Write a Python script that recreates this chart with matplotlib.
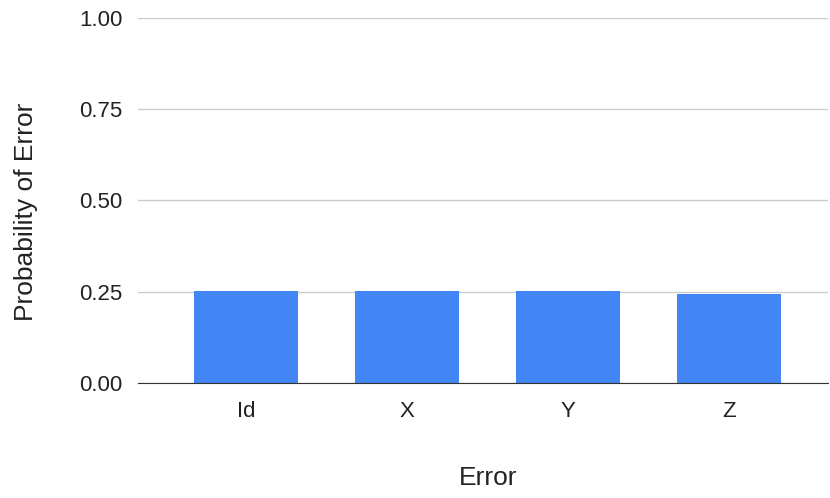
import matplotlib
matplotlib.use("Agg")
import matplotlib.pyplot as plt

# data
categories = ["Id", "X", "Y", "Z"]
probabilities = [0.251, 0.251, 0.251, 0.245]
yticks = [0.0, 0.25, 0.5, 0.75, 1.0]

plt.rcParams['font.family'] = ['Liberation Sans', 'DejaVu Sans']

fig = plt.figure(figsize=(8.3, 4.98), dpi=100)
ax = fig.add_axes([138 / 830, 115 / 498, 690 / 830, 365 / 498])

x = range(len(categories))
ax.bar(x, probabilities, width=0.65, color='#4285F4', zorder=3)

# ----- axes decoration:
ax.set_xlim(-0.671, 3.615)
ax.set_ylim(0, 1.0)
ax.set_yticks(yticks)
ax.set_yticklabels([f"{v:.2f}" for v in yticks])
ax.set_xticks(list(x))
ax.set_xticklabels(categories)
ax.tick_params(axis='both', length=0, labelsize=16, colors='#222222')
ax.tick_params(axis='y', pad=11)
ax.tick_params(axis='x', pad=13)
ax.grid(axis='y', color='#cccccc', linewidth=1, zorder=0)
for side in ['top', 'right', 'left']:
    ax.spines[side].set_visible(False)
ax.spines['bottom'].set_color('#333333')
ax.spines['bottom'].set_zorder(4)

ax.set_xlabel('Error', fontsize=19, color='#222222')
ax.xaxis.set_label_coords(0.507, -0.260)
ax.xaxis.label.set_verticalalignment('center')
ax.set_ylabel('Probability of Error', fontsize=19, color='#222222')
ax.yaxis.set_label_coords(-0.162, 0.468)
ax.yaxis.label.set_verticalalignment('center')

fig.savefig('out.png', dpi=100)
